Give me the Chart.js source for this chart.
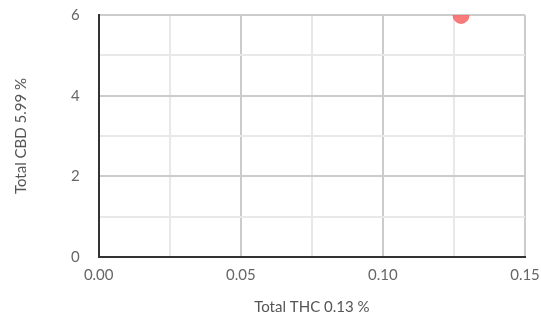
<!DOCTYPE html>
<html>
<head>
<meta charset="utf-8">
<script src="https://cdn.jsdelivr.net/npm/chart.js@4.4.0/dist/chart.umd.min.js"></script>
<style>
  html, body { margin: 0; padding: 0; background: #fff; }
  #wrap { width: 541px; height: 320px; }
</style>
</head>
<body>
<div id="wrap"><canvas id="chart"></canvas></div>
<script>
// 산점도 데이터
const thcValues = [0.1275];
const cbdValues = [5.99];
const xTitle = 'Total THC 0.13 %';
const yTitle = 'Total CBD 5.99 %';

const points = thcValues.map((x, i) => ({ x: x, y: cbdValues[i] }));

// 라벨이 있는 눈금은 진한 격자, 나머지는 옅은 격자
function gridColor(ctx, first) {
    if (ctx.index === 0) return first;
    return ctx.index % 2 === 0 ? '#cccccc' : '#e8e8e8';
}

// 눈금 padding이 차트 영역 여백으로 번지지 않도록 초기화
function resetScalePadding(scale) {
    scale.paddingTop = 0;
    scale.paddingBottom = 0;
    scale.paddingLeft = 0;
    scale.paddingRight = 0;
}

new Chart(document.getElementById('chart'), {
    type: 'scatter',
    data: {
        datasets: [{
            data: points,
            backgroundColor: 'rgba(248, 100, 100, 0.85)',
            borderColor: 'rgba(248, 100, 100, 0.85)',
            pointRadius: 8,
            pointHoverRadius: 8
        }]
    },
    options: {
        responsive: true,
        maintainAspectRatio: false,
        animation: false,
        layout: {
            autoPadding: false,
            padding: { top: 15, right: 16, left: 12, bottom: 4 }
        },
        plugins: {
            legend: { display: false },
            tooltip: { enabled: false }
        },
        scales: {
            x: {
                type: 'linear',
                min: 0,
                max: 0.15,
                afterFit: resetScalePadding,
                border: { color: '#333333', width: 2 },
                grid: {
                    color: ctx => gridColor(ctx, '#333333'),
                    lineWidth: 2,
                    drawTicks: false
                },
                ticks: {
                    stepSize: 0.025,
                    autoSkip: false,
                    maxRotation: 0,
                    padding: 9,
                    color: '#666666',
                    font: { family: 'Lato', size: 15 },
                    callback: (v, i) => i % 2 === 0 ? Number(v).toFixed(2) : ''
                },
                title: {
                    display: true,
                    text: xTitle,
                    color: '#555555',
                    font: { family: 'Lato', size: 15 },
                    padding: { top: 5, bottom: 0 }
                }
            },
            y: {
                min: 0,
                max: 6,
                afterFit: resetScalePadding,
                border: { color: '#333333', width: 2 },
                grid: {
                    color: ctx => gridColor(ctx, '#333333'),
                    lineWidth: 2,
                    drawTicks: false
                },
                ticks: {
                    stepSize: 1,
                    autoSkip: false,
                    padding: 19,
                    color: '#666666',
                    font: { family: 'Lato', size: 15 },
                    callback: (v, i) => i % 2 === 0 ? String(v) : ''
                },
                title: {
                    display: true,
                    text: yTitle,
                    color: '#555555',
                    font: { family: 'Lato', size: 15 },
                    padding: { top: 0, bottom: 22 }
                }
            }
        }
    }
});
</script>
</body>
</html>
